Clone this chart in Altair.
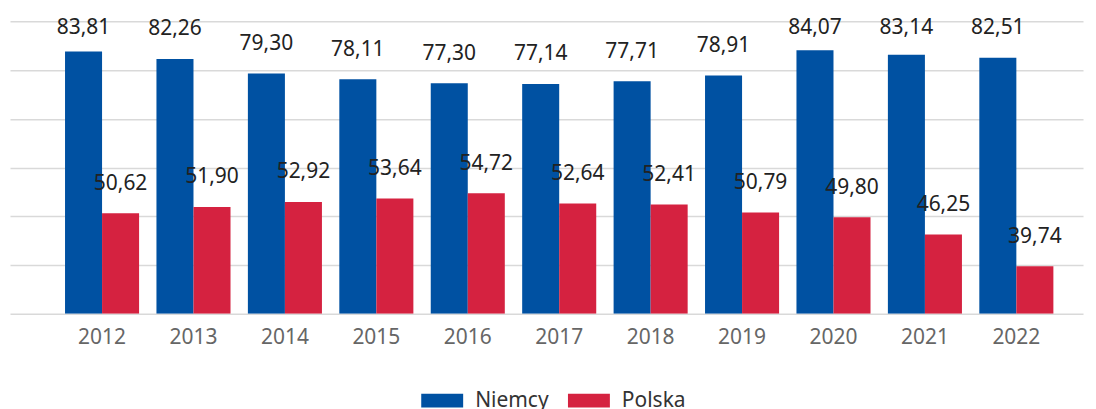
import altair as alt
import pandas as pd

years = ["2012", "2013", "2014", "2015", "2016", "2017", "2018", "2019", "2020", "2021", "2022"]
niemcy = [83.81, 82.26, 79.30, 78.11, 77.30, 77.14, 77.71, 78.91, 84.07, 83.14, 82.51]
polska = [50.62, 51.90, 52.92, 53.64, 54.72, 52.64, 52.41, 50.79, 49.80, 46.25, 39.74]
series = ["Niemcy", "Polska"]
colors = ["#0051A2", "#D52240"]
grid_values = [30, 40, 50, 60, 70, 80, 90]

rows = []
for i, y in enumerate(years):
    rows.append({"year": y, "series": "Niemcy", "value": niemcy[i]})
    rows.append({"year": y, "series": "Polska", "value": polska[i]})
df = pd.DataFrame(rows)

FONT = "Noto Sans"

x_enc = alt.X("year:N", sort=years,
              scale=alt.Scale(paddingInner=0.19, paddingOuter=0.463, align=0.65),
              axis=alt.Axis(title=None, domain=False, ticks=False, labelAngle=0,
                            labelFont=FONT, labelFontSize=21, labelColor="#666666",
                            labelPadding=13))
xoff = alt.XOffset("series:N", sort=series)

base = alt.Chart(df)

bars = base.mark_bar(clip=True).encode(
    x=x_enc,
    xOffset=xoff,
    y=alt.Y("value:Q",
            scale=alt.Scale(domain=[30, 90], nice=False, zero=False),
            axis=alt.Axis(title=None, values=grid_values, labels=False, ticks=False,
                          domain=False, grid=True, gridColor="#d9d9d9", gridWidth=1.5)),
    y2=alt.datum(30),
    color=alt.Color("series:N", sort=series,
                    scale=alt.Scale(domain=series, range=colors),
                    legend=alt.Legend(title=None, orient="none", direction="horizontal",
                                      legendX=412, legendY=359,
                                      symbolType="M-1,-0.33H1V0.33H-1Z",
                                      symbolSize=1764, symbolStrokeWidth=0,
                                      labelFont=FONT, labelFontSize=21,
                                      labelColor="#333333", labelOffset=12,
                                      columnPadding=19, padding=0)),
)

labels = base.transform_calculate(
    label_y="min(datum.value + 6.1, 88.7)",
    label="replace(format(datum.value, '.2f'), '.', ',')",
).mark_text(font=FONT, fontSize=21, color="#222222", baseline="middle").encode(
    x=alt.X("year:N", sort=years),
    xOffset=xoff,
    y=alt.Y("label_y:Q"),
    text="label:N",
)

chart = alt.layer(bars, labels).properties(
    width=1075, height=293,
    autosize=alt.AutoSizeParams(type="none"),
    padding={"left": 2, "top": 13, "right": 5, "bottom": 100},
).configure_view(stroke=None).configure_scale(bandPaddingInner=0.19)

chart.save("out.html", embed_options={"renderer": "svg", "actions": False})
